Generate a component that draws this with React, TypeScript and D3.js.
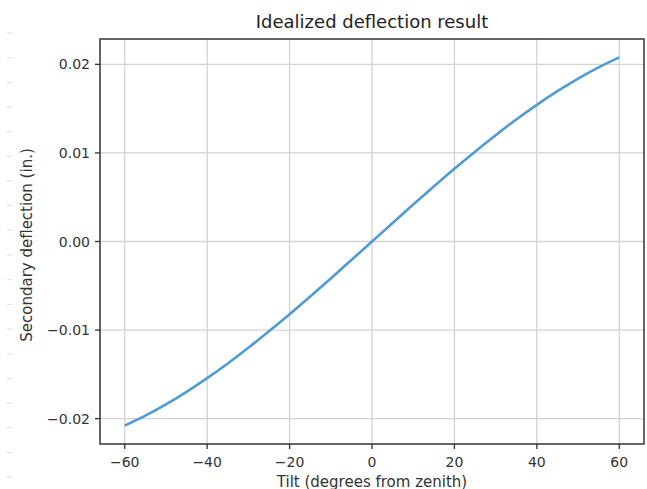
import React from "react";
import * as d3 from "d3";

const tiltDeg = [-60, -55, -50, -45, -40, -35, -30, -25, -20, -15, -10, -5, 0, 5, 10, 15, 20, 25, 30, 35, 40, 45, 50, 55, 60];
const deflection = [-0.02078, -0.01966, -0.01839, -0.01697, -0.01543, -0.01377, -0.012, -0.01014, -0.00821, -0.00621, -0.00417, -0.00209, 0, 0.00209, 0.00417, 0.00621, 0.00821, 0.01014, 0.012, 0.01377, 0.01543, 0.01697, 0.01839, 0.01966, 0.02078];
const xTicks = [-60, -40, -20, 0, 20, 40, 60];
const yTicks = [-0.02, -0.01, 0, 0.01, 0.02];

const W = 647, H = 489;
const left = 100, right = 644, top = 39, bottom = 444;
const font = "DejaVu Sans, sans-serif";

export default function App() {
  const x = d3.scaleLinear().domain([-66, 66]).range([left, right]);
  const y = d3.scaleLinear().domain([-0.02286, 0.02286]).range([bottom, top]);
  const pts = tiltDeg.map((t, i) => [t, deflection[i]] as [number, number]);
  const line = d3.line<[number, number]>().x(d => x(d[0])).y(d => y(d[1])).curve(d3.curveCatmullRom);
  const fmtY = (v: number) => (v < 0 ? "\u2212" : "") + Math.abs(v).toFixed(2);
  const fmtX = (v: number) => (v < 0 ? "\u2212" : "") + Math.abs(v);
  const dashes = d3.range(19).map(i => 33 + i * 24.67);
  return (
    <svg width={W} height={H} style={{ position: "absolute", left: 0, top: 0, background: "#fff" }}>
      <rect x={0} y={0} width={W} height={H} fill="#fff" />
      {dashes.map((d, i) => (
        <line key={"d" + i} x1={7} x2={12} y1={d} y2={d} stroke="#ddd" strokeWidth={1} />
      ))}
      {xTicks.map(t => (
        <line key={"gx" + t} x1={x(t)} x2={x(t)} y1={top} y2={bottom} stroke="#d3d3d3" strokeWidth={1.3} />
      ))}
      {yTicks.map(t => (
        <line key={"gy" + t} x1={left} x2={right} y1={y(t)} y2={y(t)} stroke="#d3d3d3" strokeWidth={1.3} />
      ))}
      <path d={line(pts) || ""} fill="none" stroke="#4f9bd2" strokeWidth={2.6} />
      <rect x={left} y={top} width={right - left} height={bottom - top} fill="none" stroke="#333" strokeWidth={1.5} />
      {xTicks.map(t => (
        <g key={"tx" + t}>
          <line x1={x(t)} x2={x(t)} y1={bottom} y2={bottom + 5} stroke="#333" strokeWidth={1.3} />
          <text x={x(t)} y={467} textAnchor="middle" fontFamily={font} fontSize={14} fill="#333">{fmtX(t)}</text>
        </g>
      ))}
      {yTicks.map(t => (
        <g key={"ty" + t}>
          <line x1={left - 5} x2={left} y1={y(t)} y2={y(t)} stroke="#333" strokeWidth={1.3} />
          <text x={90} y={y(t)} dy="0.36em" textAnchor="end" fontFamily={font} fontSize={14} fill="#333">{fmtY(t)}</text>
        </g>
      ))}
      <text x={372} y={487} textAnchor="middle" fontFamily={font} fontSize={15} fill="#333">Tilt (degrees from zenith)</text>
      <text transform={`translate(32,245) rotate(-90)`} textAnchor="middle" fontFamily={font} fontSize={15} fill="#333">Secondary deflection (in.)</text>
      <text x={372} y={28} textAnchor="middle" fontFamily={font} fontSize={18} fill="#222">Idealized deflection result</text>
    </svg>
  );
}
